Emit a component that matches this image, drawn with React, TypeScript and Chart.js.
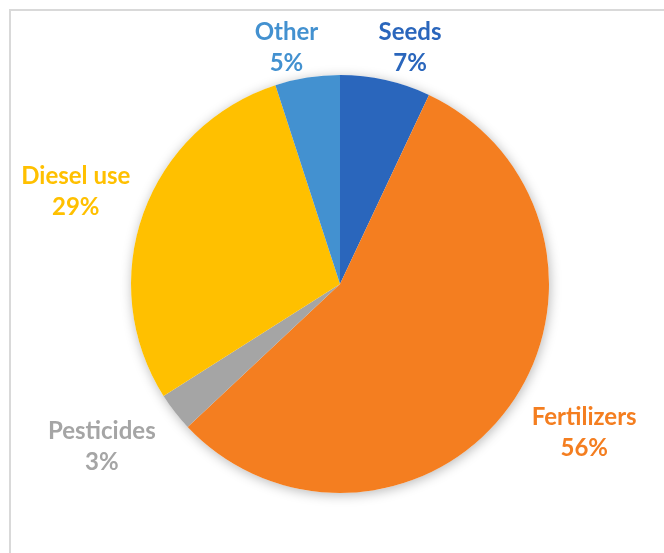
import React, { useEffect, useRef } from "react";
import { Chart, registerables } from "chart.js";

Chart.register(...registerables);

// Share of energy use by input
const categories = ["Seeds", "Fertilizers", "Pesticides", "Diesel use", "Other"];
const shares = [7, 56, 3, 29, 5];
const sliceColors = ["#2A66BC", "#F47E20", "#A5A5A5", "#FFC000", "#4391D0"];

// Small per-label adjustments to the computed outside position (px)
const labelNudges: [number, number][] = [
  [15, 9.5],
  [23, 1],
  [-21, 8.5],
  [-5, -6.6],
  [-14, 12.5],
];

const LABEL_FONT = "bold 24px Lato, 'Open Sans', sans-serif";
const LINE_GAP = 31;
const LABEL_GAP = 12;

const framePlugin = {
  id: "frame",
  beforeDraw(chart: any) {
    const ctx = chart.ctx as CanvasRenderingContext2D;
    ctx.save();
    ctx.fillStyle = "#ffffff";
    ctx.fillRect(0, 0, chart.width, chart.height);
    ctx.strokeStyle = "#D9D9D9";
    ctx.lineWidth = 2;
    ctx.beginPath();
    ctx.moveTo(10, chart.height);
    ctx.lineTo(10, 10);
    ctx.lineTo(chart.width, 10);
    ctx.stroke();
    ctx.restore();
  },
};

const shadowPlugin = {
  id: "pieShadow",
  beforeDatasetsDraw(chart: any) {
    const arc = chart.getDatasetMeta(0).data[0];
    if (!arc) return;
    const { x, y, outerRadius } = arc.getProps(["x", "y", "outerRadius"], true);
    const ctx = chart.ctx as CanvasRenderingContext2D;
    ctx.save();
    ctx.shadowColor = "rgba(0,0,0,0.28)";
    ctx.shadowBlur = 12;
    ctx.shadowOffsetX = 1;
    ctx.shadowOffsetY = 2;
    ctx.fillStyle = "#ffffff";
    ctx.beginPath();
    ctx.arc(x, y, outerRadius, 0, Math.PI * 2);
    ctx.fill();
    ctx.restore();
  },
};

const labelPlugin = {
  id: "sliceLabels",
  afterDatasetsDraw(chart: any) {
    const ctx = chart.ctx as CanvasRenderingContext2D;
    const meta = chart.getDatasetMeta(0);
    const values: number[] = chart.data.datasets[0].data;
    const total = values.reduce((a, b) => a + b, 0);
    ctx.save();
    ctx.font = LABEL_FONT;
    ctx.textAlign = "center";
    ctx.textBaseline = "middle";
    meta.data.forEach((arc: any, i: number) => {
      const { x, y, startAngle, endAngle, outerRadius } = arc.getProps(
        ["x", "y", "startAngle", "endAngle", "outerRadius"],
        true
      );
      const mid = (startAngle + endAngle) / 2;
      const ux = Math.cos(mid);
      const uy = Math.sin(mid);
      const line1 = chart.data.labels[i] as string;
      const line2 = Math.round((values[i] / total) * 100) + "%";
      const w = Math.max(ctx.measureText(line1).width, ctx.measureText(line2).width);
      const h = LINE_GAP * 2;
      const d = outerRadius + LABEL_GAP;
      const cx = x + ux * d + ux * (w / 2) + labelNudges[i][0];
      const cy = y + uy * d + uy * (h / 2) + labelNudges[i][1];
      ctx.fillStyle = sliceColors[i];
      ctx.fillText(line1, cx, cy - LINE_GAP / 2);
      ctx.fillText(line2, cx, cy + LINE_GAP / 2);
    });
    ctx.restore();
  },
};

export default function App() {
  const canvasRef = useRef<HTMLCanvasElement | null>(null);

  useEffect(() => {
    if (!canvasRef.current) return;
    const chart = new Chart(canvasRef.current, {
      type: "pie",
      data: {
        labels: categories,
        datasets: [
          {
            data: shares,
            backgroundColor: sliceColors,
            borderWidth: 0,
          },
        ],
      },
      options: {
        responsive: false,
        animation: false,
        devicePixelRatio: 1,
        layout: { padding: { left: 131, right: 115, top: 75, bottom: 60 } },
        plugins: {
          legend: { display: false },
          tooltip: { enabled: false },
        },
      },
      plugins: [framePlugin, shadowPlugin, labelPlugin],
    });
    return () => chart.destroy();
  }, []);

  return (
    <div style={{ position: "fixed", left: 0, top: 0, width: 664, height: 553, background: "#fff" }}>
      <canvas ref={canvasRef} width={664} height={553} />
    </div>
  );
}
